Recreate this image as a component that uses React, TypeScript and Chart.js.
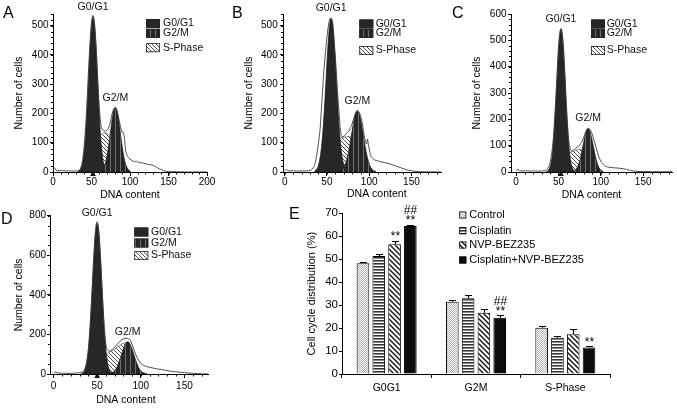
import React, { useEffect, useRef } from 'react';
import { Chart, registerables } from 'chart.js';

Chart.register(...registerables);

const FONT = "'Liberation Sans', Arial, Helvetica, sans-serif";
Chart.defaults.font.family = FONT;
Chart.defaults.color = '#000';

// ---------------- Panel A (DNA content histogram) ----------------
const aOutline = [[0,5],[2,14],[4,6],[6,5],[8,4],[10,5],[12,4],[14,5],[16,4],[18,3],[20,4],[22,3],[24,4],[26,3],[28,4],[30,3],[32,4],[34,6],[36,14],[38,35],[40,75],[42,140],[44,230],[46,340],[48,440],[50,510],[52,535],[54,505],[56,430],[58,320],[60,225],[62,165],[64,145],[66,142],[68,140],[70,142],[72,150],[74,165],[76,190],[78,210],[80,220],[81,222],[82,218],[83,212],[84,200],[86,175],[88,152],[89,140],[90,135],[91,137],[92,128],[93,110],[94,80],[95,65],[96,58],[98,50],[100,44],[102,40],[104,37],[106,35],[108,38],[110,33],[112,34],[114,32],[116,31],[118,30],[120,28],[122,27],[124,26],[126,25],[128,24],[130,22],[132,20],[134,17],[136,14],[138,11],[140,9],[142,6],[144,4],[148,2],[152,1],[160,1],[170,0],[200,0]];
const aG1 = [[32,1],[34,4],[36,10],[38,26],[40,58],[42,114],[44,198],[46,305],[48,415],[50,498],[52,530],[54,498],[56,415],[58,305],[60,198],[62,114],[64,58],[66,26],[68,10],[70,4],[72,1]];
const aG2 = [[61,2],[63,5],[65,11],[67,22],[69,40],[71,67],[73,103],[75,143],[77,183],[79,209],[81,220],[83,209],[85,183],[87,143],[89,103],[91,67],[93,40],[95,22],[97,11],[99,5],[101,2]];
const aS = [[48,0],[52,30],[56,70],[60,110],[62,125],[64,132],[66,135],[68,134],[70,131],[72,128],[74,124],[76,115],[78,95],[80,70],[84,35],[88,10],[92,0]];
const aXTicks = [0, 50, 100, 150, 200];
const aYTicks = [0, 100, 200, 300, 400, 500];

// ---------------- Panel B ----------------
const bOutline = [[0,4],[2,8],[4,5],[6,4],[10,4],[14,3],[18,4],[22,3],[26,4],[30,5],[32,8],[34,15],[36,30],[38,60],[40,100],[42,150],[44,240],[46,330],[48,400],[50,460],[52,505],[54,525],[56,520],[57,505],[58,470],[60,390],[62,300],[64,215],[66,145],[68,120],[70,122],[72,128],[74,135],[76,140],[78,152],[80,167],[82,185],[84,203],[86,211],[88,205],[90,190],[92,165],[94,125],[96,100],[97,96],[98,112],[99,95],[100,80],[102,55],[104,48],[106,42],[110,38],[114,35],[118,32],[122,30],[126,26],[130,22],[134,18],[138,14],[142,10],[146,6],[150,4],[155,2],[160,1],[185,0]];
const bG1 = [[35,2],[37,6],[39,15],[41,35],[43,71],[45,131],[47,216],[49,319],[51,421],[53,497],[55,525],[57,497],[59,421],[61,319],[63,216],[65,131],[67,71],[69,35],[71,15],[73,6],[75,2]];
const bG2 = [[64,1],[66,4],[68,8],[70,15],[72,28],[74,48],[76,75],[78,108],[80,144],[82,177],[84,200],[86,208],[88,200],[90,177],[92,144],[94,108],[96,75],[98,48],[100,28],[102,15],[104,8],[106,4],[108,1]];
const bS = [[50,0],[54,40],[58,80],[62,105],[65,114],[68,117],[71,119],[74,121],[77,122],[80,115],[84,90],[88,55],[92,25],[96,5],[98,0]];
const bXTicks = [0, 50, 100, 150];
const bYTicks = [0, 100, 200, 300, 400, 500];

// ---------------- Panel C ----------------
const cOutline = [[0,4],[2,10],[4,6],[6,5],[10,4],[14,5],[18,3],[22,4],[26,3],[30,4],[34,5],[36,8],[38,18],[40,35],[42,70],[44,130],[46,230],[48,350],[50,470],[52,535],[53,545],[54,535],[56,470],[58,345],[60,215],[62,125],[64,88],[66,80],[68,84],[70,89],[72,94],[74,99],[76,107],[78,118],[80,134],[82,152],[84,163],[85,166],[86,165],[88,158],[90,142],[92,120],[94,98],[96,75],[98,55],[100,42],[102,32],[104,25],[106,21],[110,18],[115,16],[120,15],[125,13],[130,10],[135,6],[140,3],[145,2],[150,2],[160,1],[184,1]];
const cG1 = [[35,0],[37,3],[39,11],[41,30],[43,73],[45,151],[47,264],[49,394],[51,500],[53,542],[55,500],[57,394],[59,264],[61,151],[63,73],[65,30],[67,11],[69,3],[71,0]];
const cG2 = [[67,2],[69,5],[71,11],[73,22],[75,41],[77,68],[79,100],[81,132],[83,156],[85,165],[87,156],[89,132],[91,100],[93,68],[95,41],[97,22],[99,11],[101,5],[103,2]];
const cS = [[50,0],[54,30],[58,56],[62,72],[65,76],[68,79],[71,83],[74,86],[77,84],[80,70],[84,45],[88,20],[92,5],[94,0]];
const cXTicks = [0, 50, 100, 150];
const cYTicks = [0, 100, 200, 300, 400, 500, 600];

// ---------------- Panel D ----------------
const dOutline = [[0,6],[2,10],[4,6],[6,5],[10,4],[14,4],[18,3],[22,4],[26,5],[28,6],[30,7],[32,9],[34,14],[36,28],[38,62],[40,130],[42,248],[44,405],[46,580],[48,720],[50,770],[52,718],[54,578],[56,405],[58,250],[60,150],[62,120],[64,116],[66,120],[68,128],[70,135],[72,145],[74,155],[76,165],[78,172],[80,177],[82,180],[84,181],[86,178],[88,170],[90,150],[92,125],[94,100],[96,82],[98,66],[100,55],[104,42],[108,36],[112,32],[116,28],[120,25],[124,22],[128,19],[132,16],[136,13],[140,11],[145,9],[150,7],[155,5],[160,3],[165,2],[170,1],[177,0]];
const dG1 = [[32,2],[34,7],[36,20],[38,53],[40,119],[42,233],[44,391],[46,566],[48,707],[50,761],[52,707],[54,566],[56,391],[58,233],[60,119],[62,53],[64,20],[66,7],[68,2]];
const dG2 = [[63,1],[65,3],[67,6],[69,12],[71,22],[73,37],[75,59],[77,85],[79,113],[81,138],[83,157],[85,163],[87,157],[89,138],[91,113],[93,85],[95,59],[97,37],[99,22],[101,12],[103,6],[105,3],[107,1]];
const dS = [[48,0],[52,35],[56,70],[60,98],[63,108],[66,114],[69,122],[72,133],[75,143],[78,150],[81,156],[84,158],[87,148],[90,115],[93,75],[96,40],[99,15],[102,3],[105,0]];
const dXTicks = [0, 50, 100, 150];
const dYTicks = [0, 200, 400, 600, 800];

const histLegendLabels = ['G0/G1', 'G2/M', 'S-Phase'];

// ---------------- Panel E (bar chart) ----------------
const eCategories = ['G0G1', 'G2M', 'S-Phase'];
const eSeries = ['Control', 'Cisplatin', 'NVP-BEZ235', 'Cisplatin+NVP-BEZ235'];
const eControl = [48.2, 31.5, 20.2];
const eControlErr = [0.4, 0.6, 0.6];
const eCisplatin = [51.4, 33.0, 15.8];
const eCisplatinErr = [0.7, 1.4, 0.6];
const eNvp = [56.5, 26.7, 17.3];
const eNvpErr = [1.6, 1.5, 2.5];
const eCombo = [64.5, 24.5, 11.5];
const eComboErr = [0.6, 1.2, 0.8];
const eNvpStars = ['**', '', ''];
const eComboStars = ['**', '**', '**'];
const eComboHashes = ['##', '##', ''];
const eYTicks = [0, 10, 20, 30, 40, 50, 60, 70];

// ---------------- layout (positions / styles only) ----------------
const histPanels = [
  { letter: 'A', canvas: { left: 0, top: 0, w: 228, h: 203 }, pad: { top: 14, right: 21 }, yWidth: 53, xHeight: 31,
    x: { min: 0, max: 200, ticks: aXTicks }, y: { max: 540, ticks: aYTicks, minor: 20 },
    data: { outline: aOutline, g1: aG1, g2: aG2, s: aS },
    yTitlePad: 12.7, yTickPad: 1.5, xTickPad: 0.5, xTitleAt: 100, xTitleDy: 23,
    legend: { boxX: 146, textX: 163, rows: [23.5, 33.3, 47.7] }, marker: true },
  { letter: 'B', canvas: { left: 228, top: 0, w: 222, h: 203 }, pad: { top: 14, right: 9 }, yWidth: 55, xHeight: 31,
    x: { min: -2, max: 185, ticks: bXTicks }, y: { max: 540, ticks: bYTicks, minor: 20 },
    data: { outline: bOutline, g1: bG1, g2: bG2, s: bS },
    yTitlePad: 14.7, yTickPad: 2.3, xTickPad: 0.5, xTitleAt: 109, xTitleDy: 22.5,
    legend: { boxX: 131.3, textX: 147.7, rows: [24, 33.5, 50.5] }, marker: false },
  { letter: 'C', canvas: { left: 450, top: 0, w: 227, h: 203 }, pad: { top: 14, right: 5 }, yWidth: 61, xHeight: 31,
    x: { min: -6, max: 184, ticks: cXTicks }, y: { max: 600, ticks: cYTicks, minor: 20 },
    data: { outline: cOutline, g1: cG1, g2: cG2, s: cS },
    yTitlePad: 21.2, yTickPad: 1.5, xTickPad: 0.5, xTitleAt: 89, xTitleDy: 23.5,
    legend: { boxX: 141, textX: 156.7, rows: [24, 33.5, 50.5] }, marker: true },
  { letter: 'D', canvas: { left: 0, top: 200, w: 228, h: 208 }, pad: { top: 15.7, right: 20 }, yWidth: 50, xHeight: 34,
    x: { min: -4, max: 177, ticks: dXTicks }, y: { max: 800, ticks: dYTicks, minor: 50 },
    data: { outline: dOutline, g1: dG1, g2: dG2, s: dS },
    yTitlePad: 12.7, yTickPad: 1, xTickPad: 2, xTitleAt: 83, xTitleDy: 26,
    legend: { boxX: 134.3, textX: 151, rows: [32, 43, 55.5] }, marker: true },
];

const letters = [
  { t: 'A', left: 3, top: 5 },
  { t: 'B', left: 232, top: 5 },
  { t: 'C', left: 452, top: 5 },
  { t: 'D', left: 1, top: 211 },
  { t: 'E', left: 289, top: 206 },
];

// ---------------- patterns ----------------
function makePattern(w: number, h: number, draw: (c: CanvasRenderingContext2D) => void): any {
  const cv = document.createElement('canvas');
  cv.width = w; cv.height = h;
  const c = cv.getContext('2d') as CanvasRenderingContext2D;
  draw(c);
  return c.createPattern(cv, 'repeat');
}

function backslash(size: number, bg: string, fg: string, lw: number) {
  return makePattern(size, size, (c) => {
    c.fillStyle = bg; c.fillRect(0, 0, size, size);
    c.strokeStyle = fg; c.lineWidth = lw;
    c.beginPath();
    c.moveTo(-1, -1); c.lineTo(size + 1, size + 1);
    c.moveTo(-1, size - 1); c.lineTo(1, size + 1);
    c.moveTo(size - 1, -1); c.lineTo(size + 1, 1);
    c.stroke();
  });
}

function histPatterns() {
  const g2 = makePattern(5, 2, (c) => {
    c.fillStyle = '#262626'; c.fillRect(0, 0, 5, 2);
    c.fillStyle = '#6e6e6e'; c.fillRect(0, 0, 1, 2);
  });
  const s = backslash(4, '#ffffff', '#3a3a3a', 0.9);
  return { g2, s };
}

function barPatterns() {
  const control = makePattern(2, 2, (c) => {
    c.fillStyle = '#ffffff'; c.fillRect(0, 0, 2, 2);
    c.fillStyle = '#b4b4b4'; c.fillRect(0, 0, 1, 1); c.fillRect(1, 1, 1, 1);
  });
  const cis = makePattern(2, 3, (c) => {
    c.fillStyle = '#333333'; c.fillRect(0, 0, 2, 1);
    c.fillStyle = '#8a8a8a'; c.fillRect(0, 1, 2, 1);
    c.fillStyle = '#ffffff'; c.fillRect(0, 2, 2, 1);
  });
  const nvp = backslash(5, '#ffffff', '#111111', 1.4);
  return { control, cis, nvp, combo: '#0d0d0d' };
}

// ---------------- plugins ----------------
const histDeco = {
  id: 'histDeco',
  afterDraw(chart: any) {
    const o = chart.options.plugins.histDeco;
    if (!o) return;
    const ctx = chart.ctx;
    const xs = chart.scales.x;
    const ys = chart.scales.y;
    const a = chart.chartArea;
    ctx.save();
    // minor ticks
    ctx.strokeStyle = '#000';
    ctx.lineWidth = 1;
    ctx.beginPath();
    for (let v = Math.ceil(xs.min / o.xMinor) * o.xMinor; v <= xs.max; v += o.xMinor) {
      const px = Math.round(xs.getPixelForValue(v)) + 0.5;
      ctx.moveTo(px, Math.round(a.bottom)); ctx.lineTo(px, Math.round(a.bottom) + 2.5);
    }
    for (let v = 0; v <= ys.max; v += o.yMinor) {
      const py = Math.round(ys.getPixelForValue(v)) + 0.5;
      ctx.moveTo(Math.round(a.left), py); ctx.lineTo(Math.round(a.left) - 2, py);
    }
    ctx.stroke();

    const datasets = chart.data.datasets;
    // peak labels and marker
    ctx.fillStyle = '#111';
    ctx.font = `10.5px ${FONT}`;
    ctx.textAlign = 'center';
    ctx.textBaseline = 'middle';
    datasets.forEach((ds: any) => {
      if (!ds.peakLabel) return;
      let best = ds.data[0];
      ds.data.forEach((p: any) => { if (p.y > best.y) best = p; });
      const px = xs.getPixelForValue(best.x);
      const py = ys.getPixelForValue(best.y);
      ctx.fillText(ds.label, px, py - 10);
      if (ds.marker) {
        const by = a.bottom;
        ctx.beginPath();
        ctx.moveTo(px, by - 1.5);
        ctx.lineTo(px + 2.8, by + 4);
        ctx.lineTo(px - 2.8, by + 4);
        ctx.closePath();
        ctx.fill();
      }
    });

    // legend
    o.legend.rows.forEach((ry: number, i: number) => {
      const ds = datasets.find((d: any) => d.label === histLegendLabels[i]);
      if (!ds) return;
      ctx.fillStyle = ds.backgroundColor;
      ctx.fillRect(o.legend.boxX, ry - 4.5, 14, 9);
      ctx.strokeStyle = '#222';
      ctx.lineWidth = 0.8;
      ctx.strokeRect(o.legend.boxX + 0.4, ry - 4.1, 13.2, 8.2);
      ctx.fillStyle = '#111';
      ctx.textAlign = 'left';
      ctx.fillText(ds.label, o.legend.textX, ry);
    });

    // x-axis title
    ctx.fillStyle = '#000';
    ctx.font = `10.5px ${FONT}`;
    ctx.textAlign = 'center';
    ctx.fillText(o.xTitle, xs.getPixelForValue(o.xTitleAt), a.bottom + o.xTitleDy);
    ctx.restore();
  },
};

const barDeco = {
  id: 'barDeco',
  afterDatasetsDraw(chart: any) {
    const o = chart.options.plugins.barDeco;
    if (!o) return;
    const ctx = chart.ctx;
    const ys = chart.scales.y;
    ctx.save();
    chart.data.datasets.forEach((ds: any, i: number) => {
      const meta = chart.getDatasetMeta(i);
      meta.data.forEach((bar: any, j: number) => {
        const top = ys.getPixelForValue(ds.data[j] + ds.errors[j]);
        const x = Math.round(bar.x) + 0.5;
        const yt = Math.round(top) + 0.5;
        ctx.strokeStyle = '#000';
        ctx.lineWidth = 1.2;
        ctx.beginPath();
        ctx.moveTo(x, bar.y); ctx.lineTo(x, yt);
        ctx.moveTo(x - 3.5, yt); ctx.lineTo(x + 3.5, yt);
        ctx.stroke();
        ctx.fillStyle = '#000';
        ctx.font = `12px ${FONT}`;
        ctx.textAlign = 'center';
        ctx.textBaseline = 'middle';
        if (ds.stars && ds.stars[j]) ctx.fillText(ds.stars[j], x, top - 3.5);
        if (ds.hashes && ds.hashes[j]) ctx.fillText(ds.hashes[j], x, top - 13.5);
      });
    });
    // legend
    ctx.font = `11px ${FONT}`;
    ctx.textAlign = 'left';
    ctx.textBaseline = 'middle';
    chart.data.datasets.forEach((ds: any, i: number) => {
      const ry = o.rows[i];
      ctx.fillStyle = ds.backgroundColor;
      ctx.fillRect(o.boxX, ry - 3.5, 7, 7);
      ctx.strokeStyle = '#000';
      ctx.lineWidth = 0.8;
      ctx.strokeRect(o.boxX + 0.4, ry - 3.1, 6.2, 6.2);
      ctx.fillStyle = '#000';
      ctx.fillText(ds.label, o.textX, ry);
    });
    ctx.restore();
  },
};

// ---------------- configs ----------------
function histConfig(p: any): any {
  const pats = histPatterns();
  const pts = (arr: number[][]) => arr.map(([x, y]) => ({ x, y }));
  return {
    type: 'line',
    data: {
      datasets: [
        { label: 'Histogram', data: pts(p.data.outline), borderColor: '#3a3a3a', borderWidth: 0.9, backgroundColor: 'rgba(0,0,0,0)', fill: false, order: 0 },
        { label: 'G2/M', data: pts(p.data.g2), backgroundColor: pats.g2, borderColor: '#111', borderWidth: 0.7, fill: 'origin', order: 1, peakLabel: true },
        { label: 'G0/G1', data: pts(p.data.g1), backgroundColor: '#272727', borderColor: '#111', borderWidth: 0.7, fill: 'origin', order: 2, peakLabel: true, marker: p.marker },
        { label: 'S-Phase', data: pts(p.data.s), backgroundColor: pats.s, borderColor: '#444', borderWidth: 0.6, fill: 'origin', order: 3 },
      ],
    },
    options: {
      responsive: false,
      animation: false,
      events: [],
      layout: { padding: { left: 0, top: p.pad.top, right: p.pad.right, bottom: 0 } },
      elements: { point: { radius: 0 }, line: { cubicInterpolationMode: 'monotone' } },
      plugins: {
        legend: { display: false },
        tooltip: { enabled: false },
        histDeco: { xMinor: 10, yMinor: p.y.minor, legend: p.legend, xTitle: 'DNA content', xTitleAt: p.xTitleAt, xTitleDy: p.xTitleDy },
      },
      scales: {
        x: {
          type: 'linear', min: p.x.min, max: p.x.max,
          afterBuildTicks: (s: any) => { s.ticks = p.x.ticks.map((v: number) => ({ value: v })); },
          afterFit: (s: any) => { s.height = p.xHeight; },
          grid: { drawOnChartArea: false, tickLength: 4, color: '#000', tickColor: '#000' },
          border: { color: '#000', width: 1 },
          ticks: { font: { size: 10 }, color: '#000', padding: p.xTickPad, maxRotation: 0, autoSkip: false },
        },
        y: {
          type: 'linear', min: 0, max: p.y.max,
          afterBuildTicks: (s: any) => { s.ticks = p.y.ticks.map((v: number) => ({ value: v })); },
          afterFit: (s: any) => { s.width = p.yWidth; },
          grid: { drawOnChartArea: false, tickLength: 3, color: '#000', tickColor: '#000' },
          border: { color: '#000', width: 1 },
          ticks: { font: { size: 10 }, color: '#000', padding: p.yTickPad, autoSkip: false },
          title: { display: true, text: 'Number of cells', font: { size: 10.5 }, color: '#000', padding: { top: p.yTitlePad, bottom: 0 } },
        },
      },
    },
    plugins: [histDeco],
  };
}

function barConfig(): any {
  const pats = barPatterns();
  const common = { borderColor: '#000', borderWidth: 1 };
  return {
    type: 'bar',
    data: {
      labels: eCategories,
      datasets: [
        { label: eSeries[0], data: eControl, errors: eControlErr, backgroundColor: pats.control, ...common },
        { label: eSeries[1], data: eCisplatin, errors: eCisplatinErr, backgroundColor: pats.cis, ...common },
        { label: eSeries[2], data: eNvp, errors: eNvpErr, stars: eNvpStars, backgroundColor: pats.nvp, ...common },
        { label: eSeries[3], data: eCombo, errors: eComboErr, stars: eComboStars, hashes: eComboHashes, backgroundColor: pats.combo, ...common },
      ],
    },
    options: {
      responsive: false,
      animation: false,
      events: [],
      layout: { padding: { left: 0, top: 13.3, right: 67, bottom: 0 } },
      datasets: { bar: { categoryPercentage: 0.707, barPercentage: 0.8 } },
      plugins: {
        legend: { display: false },
        tooltip: { enabled: false },
        barDeco: { boxX: 174.3, textX: 184.3, rows: [15, 30.7, 45, 60] },
      },
      scales: {
        x: {
          afterFit: (s: any) => { s.height = 34; },
          grid: { drawOnChartArea: false, tickLength: 4, color: '#000', tickColor: '#000', offset: true },
          border: { color: '#000', width: 1 },
          ticks: { font: { size: 10.5 }, color: '#000', padding: 4 },
        },
        y: {
          min: 0, max: 70,
          afterBuildTicks: (s: any) => { s.ticks = eYTicks.map((v) => ({ value: v })); },
          afterFit: (s: any) => { s.width = 57; },
          grid: { drawOnChartArea: false, tickLength: 3, color: '#000', tickColor: '#000' },
          border: { color: '#000', width: 1 },
          ticks: { font: { size: 11.5 }, color: '#000', padding: 1 },
          title: { display: true, text: 'Cell cycle distribution (%)', font: { size: 11 }, color: '#000', padding: { top: 20, bottom: 0 } },
        },
      },
    },
    plugins: [barDeco],
  };
}

// ---------------- components ----------------
function ChartCanvas({ left, top, w, h, make }: any) {
  const ref = useRef<HTMLCanvasElement>(null);
  useEffect(() => {
    const chart = new Chart(ref.current as HTMLCanvasElement, make());
    return () => chart.destroy();
  }, []);
  return (
    <canvas
      ref={ref}
      width={w}
      height={h}
      style={{ position: 'absolute', left, top, width: w, height: h }}
    />
  );
}

export default function App() {
  return (
    <div style={{ position: 'fixed', left: 0, top: 0, width: 677, height: 408, background: '#fff', overflow: 'hidden' }}>
      {histPanels.map((p) => (
        <ChartCanvas key={p.letter} left={p.canvas.left} top={p.canvas.top} w={p.canvas.w} h={p.canvas.h} make={() => histConfig(p)} />
      ))}
      <ChartCanvas left={285} top={200} w={392} h={208} make={barConfig} />
      {letters.map((l) => (
        <div key={l.t} style={{ position: 'absolute', left: l.left, top: l.top, fontFamily: FONT, fontSize: 16, lineHeight: '16px', color: '#000' }}>
          {l.t}
        </div>
      ))}
    </div>
  );
}
